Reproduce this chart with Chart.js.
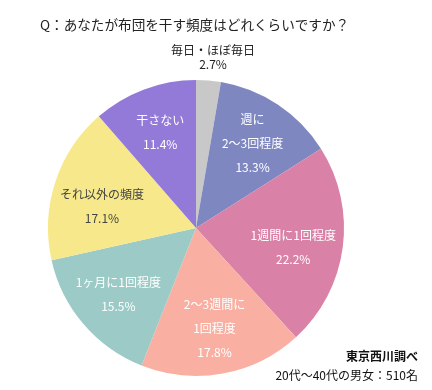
<!DOCTYPE html>
<html>
<head>
<meta charset="utf-8">
<script src="https://cdn.jsdelivr.net/npm/chart.js@4"></script>
<style>
  body { margin: 0; background: #fff; }
  canvas { display: block; }
</style>
</head>
<body>
<canvas id="pie" width="432" height="390"></canvas>
<script>
// データ (時計回り、12時から)
const categories = [
  ['毎日・ほぼ毎日'],
  ['週に', '2～3回程度'],
  ['1週間に1回程度'],
  ['2～3週間に', '1回程度'],
  ['1ヶ月に1回程度'],
  ['それ以外の頻度'],
  ['干さない']
];
const values = [2.7, 13.3, 22.2, 17.8, 15.5, 17.1, 11.4];
const sliceColors = ['#c8c8c8', '#7f87c1', '#d981a6', '#f9b0a2', '#9ccac6', '#f7e98b', '#937ad8'];
const labelColors = ['#222', '#fff', '#fff', '#fff', '#fff', '#444', '#fff'];

const FONT = '"Noto Sans CJK JP", "Noto Sans", sans-serif';

// スライス内ラベル + タイトル + 注記
const textPlugin = {
  id: 'pieText',
  afterDraw(chart) {
    const ctx = chart.ctx;
    const arcs = chart.getDatasetMeta(0).data;
    ctx.save();
    ctx.textAlign = 'center';
    ctx.textBaseline = 'middle';
    ctx.font = '12px ' + FONT;

    arcs.forEach((arc, i) => {
      const mid = (arc.startAngle + arc.endAngle) / 2;
      const lines = categories[i].concat([values[i].toFixed(1) + '%']);
      ctx.fillStyle = labelColors[i];
      if (i === 0) {
        // 小さいスライスは外側に
        ctx.fillText(lines[0], arc.x + 17, arc.y - 178);
        ctx.fillText(lines[1], arc.x + 17, arc.y - 164);
        return;
      }
      const r = arc.outerRadius * 0.69;
      let cx = arc.x + Math.cos(mid) * r;
      let cy = arc.y + Math.sin(mid) * r;
      if (i === 5) { cy += 10; cx += 3; }
      if (i === 2) { cy += 6; cx -= 4; }
      const lh = 24;
      const top = cy - (lines.length - 1) * lh / 2;
      lines.forEach((t, k) => ctx.fillText(t, cx, top + k * lh));
    });

    // タイトル
    ctx.textAlign = 'left';
    ctx.fillStyle = '#222';
    ctx.font = '13.6px ' + FONT;
    ctx.fillText('Q：あなたが布団を干す頻度はどれくらいですか？', 40, 25);

    // 注記
    ctx.textAlign = 'right';
    ctx.fillStyle = '#111';
    ctx.font = 'bold 12px ' + FONT;
    ctx.fillText('東京西川調べ', 418, 356);
    ctx.font = '12px ' + FONT;
    ctx.fillText('20代～40代の男女：510名', 418, 375);
    ctx.restore();
  }
};

new Chart(document.getElementById('pie'), {
  type: 'pie',
  data: {
    labels: categories.map(c => c.join('')),
    datasets: [{
      data: values,
      backgroundColor: sliceColors,
      borderWidth: 0
    }]
  },
  options: {
    responsive: false,
    animation: false,
    layout: { padding: { left: 48, right: 88, top: 80, bottom: 14 } },
    plugins: {
      legend: { display: false },
      tooltip: { enabled: false }
    }
  },
  plugins: [textPlugin]
});
</script>
</body>
</html>
